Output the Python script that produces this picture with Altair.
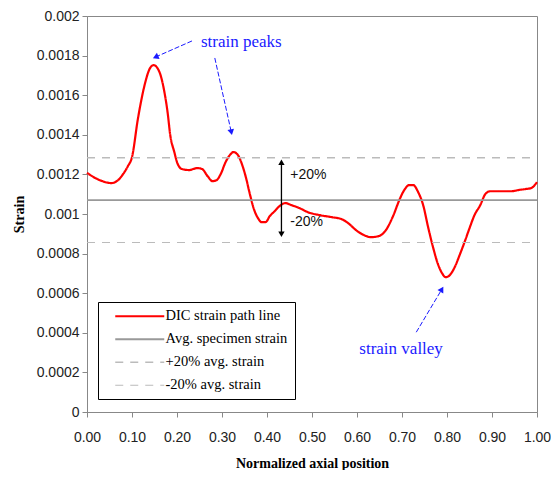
import math
import altair as alt
import pandas as pd

# ---------------- data ----------------
pos = [0.000, 0.019, 0.034, 0.054, 0.069, 0.080, 0.091, 0.100, 0.113, 0.128,
       0.139, 0.148, 0.161, 0.172, 0.179, 0.185, 0.194, 0.200, 0.211, 0.227,
       0.245, 0.256, 0.268, 0.279, 0.288, 0.297, 0.308, 0.319, 0.325, 0.334,
       0.345, 0.353, 0.362, 0.371, 0.380, 0.388, 0.397, 0.406, 0.417, 0.428,
       0.441, 0.454, 0.472, 0.491, 0.518, 0.544, 0.566, 0.583, 0.598, 0.616,
       0.631, 0.648, 0.664, 0.681, 0.694, 0.705, 0.716, 0.725, 0.736, 0.747,
       0.758, 0.769, 0.780, 0.789, 0.797, 0.806, 0.817, 0.828, 0.839, 0.850,
       0.861, 0.874, 0.885, 0.896, 0.911, 0.928, 0.944, 0.959, 0.974, 0.987,
       1.000]
strain = [0.001208, 0.001181, 0.001166, 0.001156, 0.001171, 0.001201, 0.001242, 0.001287, 0.001479, 0.001651,
          0.001732, 0.001752, 0.001717, 0.001616, 0.001515, 0.001398, 0.001313, 0.001262, 0.001227, 0.001222,
          0.001232, 0.001227, 0.001191, 0.001166, 0.001171, 0.001201, 0.001262, 0.001302, 0.001313, 0.001302,
          0.001247, 0.001186, 0.001100, 0.001024, 0.000979, 0.000959, 0.000959, 0.000989, 0.001014, 0.001040,
          0.001055, 0.001045, 0.001030, 0.001009, 0.000994, 0.000984, 0.000974, 0.000949, 0.000918, 0.000893,
          0.000883, 0.000888, 0.000918, 0.000994, 0.001070, 0.001121, 0.001146, 0.001146, 0.001110, 0.001045,
          0.000934, 0.000832, 0.000746, 0.000701, 0.000681, 0.000691, 0.000731, 0.000792, 0.000858, 0.000928,
          0.000994, 0.001045, 0.001100, 0.001115, 0.001115, 0.001115, 0.001115, 0.001121, 0.001126, 0.001131,
          0.001161]

avg_strain = 0.00107
ref_levels = [avg_strain, avg_strain * 1.2, avg_strain * 0.8]
series_names = ["DIC strain path line", "Avg. specimen strain",
                "\u00a0+20% avg. strain", "\u00a0-20% avg. strain"]

x_ticks = [0.0, 0.1, 0.2, 0.3, 0.4, 0.5, 0.6, 0.7, 0.8, 0.9, 1.0]

# annotations
note_text = ["strain peaks", "strain valley"]
note_x = [0.343, 0.698]
note_y = [0.001869, 0.000317]

arrow_x1 = [0.2333, 0.2840, 0.7317]
arrow_y1 = [0.001874, 0.001788, 0.000403]
arrow_x2 = [0.1524, 0.3207, 0.7886]
arrow_y2 = [0.001793, 0.001413, 0.000620]

band_x = 0.4321
band_top = 0.001261
band_bottom = 0.000898
band_labels = ["+20%", "-20%"]
band_label_y = [0.001196, 0.000958]
band_label_x = 0.4517

# ---------------- tables ----------------
W, H = 450, 396
rows = [{"series": series_names[0], "x": p, "y": s} for p, s in zip(pos, strain)]
for name, lvl in zip(series_names[1:], ref_levels):
    rows += [{"series": name, "x": 0.0, "y": lvl}, {"series": name, "x": 1.0, "y": lvl}]
df = pd.DataFrame(rows)

xs = alt.Scale(domain=[0, 1], nice=False)
ys = alt.Scale(domain=[0, 0.002], nice=False)


def ang(dx, dy):
    # screen angle (clockwise from up) of a direction given in data units
    px = dx * W / 1.0
    py = -dy * H / 0.002
    return math.degrees(math.atan2(px, -py)) % 360


arrows = pd.DataFrame({"x1": arrow_x1, "y1": arrow_y1, "x2": arrow_x2, "y2": arrow_y2})
arrows["angle"] = [ang(b - a, d - c) for a, b, c, d in zip(arrow_x1, arrow_x2, arrow_y1, arrow_y2)]
notes = pd.DataFrame({"text": note_text, "x": note_x, "y": note_y})
band = pd.DataFrame({"x": [band_x], "y1": [band_top], "y2": [band_bottom]})
band_heads = pd.DataFrame({"x": [band_x, band_x], "y": [band_top, band_bottom],
                           "angle": [0, 180]})
band_txt = pd.DataFrame({"x": [band_label_x] * 2, "y": band_label_y, "text": band_labels})

legend = alt.Legend(
    title=None, orient="none", legendX=11, legendY=286,
    symbolType="M0.6,0H10.4", symbolSize=100, symbolStrokeWidth=1.5,
    labelFont="Liberation Serif", labelFontSize=14.5, labelColor="#000",
    labelOffset=46, rowPadding=8, padding=7,
    fillColor="white", strokeColor="#000",
)

lines = alt.Chart(df).mark_line(interpolate="monotone").encode(
    x=alt.X("x:Q", scale=xs,
            axis=alt.Axis(values=x_ticks, format=".2f", title="Normalized axial position",
                          labelPadding=13, titlePadding=12, labelFlush=False,
                          labelOverlap=False)),
    y=alt.Y("y:Q", scale=ys,
            axis=alt.Axis(tickCount=10, format="~g", title="Strain",
                          labelPadding=3, titlePadding=10, labelFlush=False,
                          labelOverlap=False, labelSeparation=0)),
    color=alt.Color("series:N",
                    scale=alt.Scale(domain=series_names,
                                    range=["#ff0000", "#999999", "#bbbbbb", "#bbbbbb"]),
                    legend=legend),
    strokeDash=alt.StrokeDash("series:N",
                              scale=alt.Scale(domain=series_names,
                                              range=[[1, 0], [1, 0], [8, 7], [8, 7]]),
                              legend=legend),
    strokeWidth=alt.StrokeWidth("series:N",
                                scale=alt.Scale(domain=series_names, range=[2.2, 1.2, 1.2, 1.2]),
                                legend=None),
)

blue = "#1a1aff"
arrow_lines = alt.Chart(arrows).mark_rule(color=blue, strokeWidth=1, strokeDash=[5, 2]).encode(
    x=alt.X("x1:Q", scale=xs), y=alt.Y("y1:Q", scale=ys), x2="x2:Q", y2="y2:Q")
arrow_heads = alt.Chart(arrows).mark_point(shape="triangle-up", filled=True, color=blue,
                                           size=45, opacity=1).encode(
    x=alt.X("x2:Q", scale=xs), y=alt.Y("y2:Q", scale=ys), angle=alt.Angle("angle:Q", scale=None))
note_marks = alt.Chart(notes).mark_text(font="Liberation Serif", fontSize=17, color=blue,
                                        align="center", baseline="middle").encode(
    x=alt.X("x:Q", scale=xs), y=alt.Y("y:Q", scale=ys), text="text:N")

band_rule = alt.Chart(band).mark_rule(color="#000", strokeWidth=1.3).encode(
    x=alt.X("x:Q", scale=xs), y=alt.Y("y1:Q", scale=ys), y2="y2:Q")
band_head_marks = alt.Chart(band_heads).mark_point(shape="triangle-up", filled=True, color="#000",
                                                   size=40, opacity=1).encode(
    x=alt.X("x:Q", scale=xs), y=alt.Y("y:Q", scale=ys), angle=alt.Angle("angle:Q", scale=None))
band_text = alt.Chart(band_txt).mark_text(font="Liberation Sans", fontSize=14, color="#111",
                                          align="left", baseline="middle").encode(
    x=alt.X("x:Q", scale=xs), y=alt.Y("y:Q", scale=ys), text="text:N")

chart = alt.layer(
    lines, arrow_lines, arrow_heads, note_marks, band_rule, band_head_marks, band_text
).properties(
    width=W, height=H,
    autosize=alt.AutoSizeParams(type="none"),
    padding={"left": 79, "top": 8, "right": 14, "bottom": 58},
).configure_view(
    stroke="#888888", strokeWidth=1
).configure_axis(
    grid=False,
    domainColor="#888888", tickColor="#888888", tickSize=5,
    labelFont="Liberation Sans", labelFontSize=14, labelColor="#222222",
    titleFont="Liberation Serif", titleFontSize=14, titleFontWeight="bold", titleColor="#000",
).configure_axisY(
    labelOverlap=False
).configure_legend(
    strokeWidth=1
)

chart.save("out.html", embed_options={"renderer": "svg", "actions": False})
